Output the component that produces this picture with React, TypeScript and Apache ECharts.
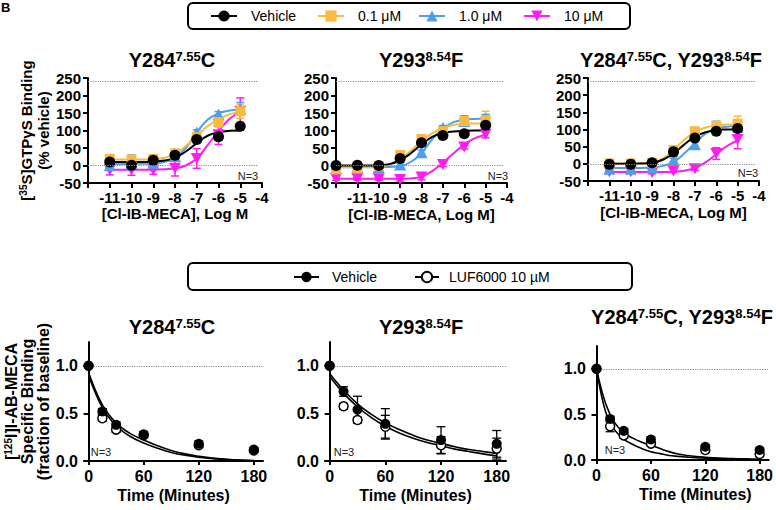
import React, { useEffect, useRef } from "react";
import * as echarts from "echarts";

const FONT = "'Liberation Sans', Arial, Helvetica, sans-serif";

// ---------- Top row: [35S]GTPγS binding ----------
const treatmentNames = ["Vehicle", "0.1 μM", "1.0 μM", "10 μM"];
const doseA = [-11, -10, -9, -8, -7, -6, -5];
const doseB = [-12, -11, -10, -9, -8, -7, -6, -5];
const doseC = [-11, -10, -9, -8, -7, -6, -5];

// Panel Y284C
const aVeh = [10, 1, 15, 29, 74, 82, 112];
const aP1 = [19, 17, 19, 35, 81, 124, 155];
const aP10 = [1, 8, 8, 27, 94, 146, 162];
const aP100 = [-13, -13, -13, -8, 20, 88, 155];
const aVehErr = [5, 4, 6, 5, 6, 8, 6];
const aP1Err = [8, 6, 8, 8, 10, 14, 20];
const aP10Err = [6, 22, 6, 6, 8, 8, 18];
const aP100Err = [14, 15, 12, 22, 28, 28, 38];
const fitXA = [-11, -10.5, -10, -9.5, -9, -8.5, -8, -7.5, -7, -6.5, -6, -5.5, -5];
const aVehFit = [10, 10, 10, 10, 11, 14, 22, 40, 64, 85, 95, 99, 100];
const aP1Fit = [17, 17, 17, 17, 18, 22, 32, 56, 84, 112, 132, 146, 153];
const aP10Fit = [4, 4, 5, 5, 6, 10, 22, 50, 95, 131, 149, 157, 161];
const aP100Fit = [-12, -12, -12, -12, -12, -11, -8, 0, 20, 58, 98, 133, 151];

// Panel Y293F
const bVeh = [0, 1, 0, 20, 65, 86, 91, 115];
const bP1 = [-11, -7, -2, 30, 76, 98, 127, 130];
const bP10 = [-7, -5, -5, 3, 38, 108, 127, 134];
const bP100 = [-37, -38, -38, -40, -33, 3, 53, 89];
const bVehErr = [4, 8, 5, 6, 8, 6, 5, 8];
const bP1Err = [8, 10, 6, 10, 10, 8, 8, 25];
const bP10Err = [6, 6, 6, 5, 6, 6, 15, 12];
const bP100Err = [5, 4, 4, 4, 8, 6, 6, 10];
const fitXB = [-12, -11.5, -11, -10.5, -10, -9.5, -9, -8.5, -8, -7.5, -7, -6.5, -6, -5.5, -5];
const bVehFit = [0, 0, 0, 0, 1, 4, 15, 35, 60, 82, 93, 97, 99, 100, 100];
const bP1Fit = [-4, -4, -4, -4, -3, 3, 18, 42, 70, 92, 108, 116, 119, 120, 121];
const bP10Fit = [-5, -5, -5, -5, -5, -4, -2, 10, 35, 75, 105, 124, 131, 133, 134];
const bP100Fit = [-38, -38, -38, -38, -38, -38, -38, -37, -32, -16, 8, 35, 60, 78, 88];

// Panel Y284C, Y293F
const cVeh = [-1, -1, 3, 35, 75, 95, 103];
const cP1 = [1, 1, 3, 40, 95, 111, 117];
const cP10 = [-14, -14, -11, 11, 57, 109, 109];
const cP100 = [-23, -23, -25, -21, -14, 30, 71];
const cVehErr = [5, 4, 5, 12, 8, 6, 6];
const cP1Err = [5, 5, 5, 8, 8, 10, 22];
const cP10Err = [5, 5, 5, 6, 8, 15, 8];
const cP100Err = [4, 4, 4, 4, 5, 17, 27];
const fitXC = [-11, -10.5, -10, -9.5, -9, -8.5, -8, -7.5, -7, -6.5, -6, -5.5, -5];
const cVehFit = [0, 0, 0, 1, 3, 12, 30, 56, 79, 92, 98, 100, 101];
const cP1Fit = [1, 1, 1, 2, 4, 15, 40, 70, 93, 106, 112, 114, 115];
const cP10Fit = [-12, -12, -12, -12, -11, -6, 5, 30, 60, 88, 103, 108, 110];
const cP100Fit = [-24, -24, -24, -24, -24, -24, -23, -20, -12, 4, 28, 52, 68];

const topYTicks = [-50, 0, 50, 100, 150, 200, 250];
const topXLabels = [-11, -10, -9, -8, -7, -6, -5, -4];

// ---------- Bottom row: [125I]I-AB-MECA dissociation ----------
const kinNames = ["Vehicle", "LUF6000 10 µM"];
const timeX = [0, 15, 30, 60, 120, 180];

const dVeh = [1.0, 0.52, 0.38, 0.28, 0.18, 0.12];
const dLuf = [1.0, 0.45, 0.33, 0.27, 0.165, 0.11];
const dVehErr = [0, 0.03, 0.03, 0.03, 0.03, 0.02];
const dLufErr = [0, 0.03, 0.03, 0.02, 0.02, 0.02];
const dFitT = [0, 15, 30, 45, 60, 75, 90, 105, 120, 135, 150, 165, 180];
const dVehFit = [0.93, 0.59, 0.4, 0.29, 0.22, 0.16, 0.11, 0.075, 0.05, 0.03, 0.018, 0.01, 0.005];
const dLufFit = [0.9, 0.56, 0.37, 0.26, 0.19, 0.135, 0.09, 0.06, 0.04, 0.025, 0.014, 0.007, 0.003];

const eVeh = [1.0, 0.73, 0.54, 0.39, 0.22, 0.18];
const eLuf = [1.0, 0.575, 0.43, 0.36, 0.165, 0.13];
const eVehErr = [0, 0.05, 0.14, 0.16, 0.14, 0.14];
const eLufErr = [0, 0.03, 0.03, 0.12, 0.09, 0.11];
const eFitT = [0, 15, 30, 45, 60, 75, 90, 105, 120, 135, 150, 165, 180];
const eVehFit = [0.92, 0.745, 0.6, 0.49, 0.4, 0.33, 0.27, 0.22, 0.185, 0.15, 0.12, 0.1, 0.08];
const eLufFit = [0.89, 0.71, 0.57, 0.455, 0.365, 0.295, 0.24, 0.195, 0.16, 0.125, 0.1, 0.075, 0.055];

const fVeh = [1.0, 0.45, 0.32, 0.225, 0.145, 0.11];
const fLuf = [1.0, 0.37, 0.27, 0.18, 0.11, 0.065];
const fVehErr = [0, 0.03, 0.02, 0.03, 0.02, 0.02];
const fLufErr = [0, 0.06, 0.03, 0.02, 0.02, 0.02];
const fFitT = [0, 10, 20, 30, 40, 50, 60, 70, 80, 90, 100, 110, 120, 130, 140, 150, 160, 170, 180];
const fVehFit = [1.0, 0.62, 0.41, 0.3, 0.24, 0.195, 0.16, 0.125, 0.092, 0.066, 0.05, 0.038, 0.03, 0.024, 0.019, 0.015, 0.013, 0.011, 0.01];
const fLufFit = [1.0, 0.53, 0.33, 0.23, 0.17, 0.125, 0.09, 0.07, 0.05, 0.04, 0.032, 0.025, 0.02, 0.015, 0.011, 0.008, 0.005, 0.003, 0.002];

const botYLabels = [0, 0.5, 1.0];
const botXLabels = [0, 60, 120, 180];

// ---------- styling ----------
const COLORS = ["#000000", "#F9BA3F", "#4B9FEC", "#FF1CF0"];
const DOWN_TRI = "path://M0,0L20,0L10,18Z";
const SYMBOLS = ["circle", "rect", "triangle", DOWN_TRI];
const SIZES: any[] = [11, 10, 12, [12, 11]];

const zip = (xs: number[], ys: number[]) => xs.map((x, i) => [x, ys[i]]);
const zip3 = (xs: number[], ys: number[], es: number[]) => xs.map((x, i) => [x, ys[i], es[i]]);

const axisText = (size: number) => ({ fontSize: size, fontWeight: "bold", color: "#000", fontFamily: FONT });
const supRich = (size: number) => ({ sup: { fontSize: size, fontWeight: "bold", color: "#000", fontFamily: FONT, verticalAlign: "top" } });

function errSeries(idx: number, data: number[][], color: string, capHalf: number, width: number) {
  return {
    type: "custom",
    xAxisIndex: idx,
    yAxisIndex: idx,
    silent: true,
    z: 3,
    clip: false,
    encode: { x: 0, y: 1 },
    data,
    renderItem: (_p: any, api: any) => {
      const x = api.value(0);
      const y = api.value(1);
      const e = api.value(2);
      if (!e) return { type: "group", children: [] };
      const hi = api.coord([x, y + e]);
      const lo = api.coord([x, y - e]);
      const st = { stroke: color, lineWidth: width };
      return {
        type: "group",
        children: [
          { type: "line", shape: { x1: hi[0], y1: hi[1], x2: lo[0], y2: lo[1] }, style: st },
          { type: "line", shape: { x1: hi[0] - capHalf, y1: hi[1], x2: hi[0] + capHalf, y2: hi[1] }, style: st },
          { type: "line", shape: { x1: lo[0] - capHalf, y1: lo[1], x2: lo[0] + capHalf, y2: lo[1] }, style: st },
        ],
      };
    },
  };
}

function buildOption() {
  const topPanels = [
    {
      grid: { left: 88, top: 78, width: 174, height: 105 },
      title: "Y284{sup|7.55}C", titleX: 172, titleTop: 50,
      xName: "[Cl-IB-MECA], Log M", nameGap: 22,
      dose: doseA, pts: [aVeh, aP1, aP10, aP100], errs: [aVehErr, aP1Err, aP10Err, aP100Err],
      fitX: fitXA, fits: [aVehFit, aP1Fit, aP10Fit, aP100Fit], n3: [248, 176], yName: true,
    },
    {
      grid: { left: 336, top: 78, width: 171, height: 105 },
      title: "Y293{sup|8.54}F", titleX: 421, titleTop: 50,
      xName: "[Cl-IB-MECA, Log M]", nameGap: 24,
      dose: doseB, pts: [bVeh, bP1, bP10, bP100], errs: [bVehErr, bP1Err, bP10Err, bP100Err],
      fitX: fitXB, fits: [bVehFit, bP1Fit, bP10Fit, bP100Fit], n3: [498, 176], yName: false,
    },
    {
      grid: { left: 588, top: 78, width: 171, height: 103 },
      title: "Y284{sup|7.55}C, Y293{sup|8.54}F", titleX: 671, titleTop: 50,
      xName: "[Cl-IB-MECA, Log M]", nameGap: 24,
      dose: doseC, pts: [cVeh, cP1, cP10, cP100], errs: [cVehErr, cP1Err, cP10Err, cP100Err],
      fitX: fitXC, fits: [cVehFit, cP1Fit, cP10Fit, cP100Fit], n3: [748, 173], yName: false,
    },
  ];
  const botPanels = [
    {
      grid: { left: 84, top: 342, width: 179, height: 119 },
      title: "Y284{sup|7.55}C", titleX: 172, titleTop: 317, namePad: 0,
      pts: [dVeh, dLuf], errs: [dVehErr, dLufErr], fitT: dFitT, fits: [dVehFit, dLufFit], n3: [101, 452], yName: true,
    },
    {
      grid: { left: 325, top: 342, width: 181, height: 119 },
      title: "Y293{sup|8.54}F", titleX: 421, titleTop: 317, namePad: 0,
      pts: [eVeh, eLuf], errs: [eVehErr, eLufErr], fitT: eFitT, fits: [eVehFit, eLufFit], n3: [344, 452], yName: false,
    },
    {
      grid: { left: 592, top: 346, width: 180, height: 114 },
      title: "Y284{sup|7.55}C, Y293{sup|8.54}F", titleX: 682, titleTop: 307, namePad: 30,
      pts: [fVeh, fLuf], errs: [fVehErr, fLufErr], fitT: fFitT, fits: [fVehFit, fLufFit], n3: [615, 450], yName: false,
    },
  ];

  const grid: any[] = [];
  const xAxis: any[] = [];
  const yAxis: any[] = [];
  const series: any[] = [];
  const title: any[] = [];
  const graphic: any[] = [];

  const titleStyle = { ...axisText(20), rich: supRich(13) };
  const dotted = { type: "dotted", color: "#8a8a8a", width: 1.2 };
  const lineAx = { color: "#000", width: 2 };

  topPanels.forEach((p, i) => {
    grid.push(p.grid);
    title.push({ text: p.title, left: p.titleX, top: p.titleTop, textAlign: "center", padding: 0, textStyle: titleStyle });
    xAxis.push({
      gridIndex: i, type: "value", min: -12, max: -4, interval: 1,
      axisLine: { onZero: false, lineStyle: lineAx },
      axisTick: { length: 5, lineStyle: lineAx },
      axisLabel: { ...axisText(15), margin: 7, customValues: topXLabels },
      splitLine: { show: false },
      name: p.xName, nameLocation: "middle", nameGap: p.nameGap, nameTextStyle: axisText(15),
    });
    yAxis.push({
      gridIndex: i, type: "value", min: -50, max: 250, interval: 50,
      axisLine: { show: true, lineStyle: lineAx },
      axisTick: { show: true, length: 5, lineStyle: lineAx },
      axisLabel: { ...axisText(15), margin: 7, customValues: topYTicks },
      splitLine: { show: false },
      ...(p.yName
        ? {
            name: "[{sup|35}S]GTPγS Binding\n(% vehicle)", nameLocation: "middle", nameRotate: 90, nameGap: 36,
            nameTextStyle: { ...axisText(15), lineHeight: 17, rich: supRich(10) },
          }
        : {}),
    });
    series.push({
      type: "line", xAxisIndex: i, yAxisIndex: i, data: [], silent: true,
      markLine: {
        silent: true, symbol: ["none", "none"], label: { show: false }, lineStyle: dotted,
        data: [
          [{ coord: [-12, 0] }, { coord: [-4.2, 0] }],
          [{ coord: [-12, 240] }, { coord: [-4.2, 240] }],
        ],
      },
    });
    [3, 2, 1, 0].forEach((t) => {
      series.push({
        type: "line", xAxisIndex: i, yAxisIndex: i, data: zip(p.fitX, p.fits[t]),
        smooth: 0.4, showSymbol: false, silent: true, z: 2,
        lineStyle: { color: COLORS[t], width: 2 },
      });
    });
    [3, 2, 1, 0].forEach((t) => {
      series.push(errSeries(i, zip3(p.dose, p.pts[t], p.errs[t]), COLORS[t], 4, 1.5));
    });
    [3, 2, 1, 0].forEach((t) => {
      series.push({
        name: treatmentNames[t], type: "line", xAxisIndex: i, yAxisIndex: i,
        data: zip(p.dose, p.pts[t]), symbol: SYMBOLS[t], symbolSize: SIZES[t], showAllSymbol: true,
        clip: false, z: 4, color: COLORS[t],
        itemStyle: { color: COLORS[t] },
        lineStyle: { color: COLORS[t], width: 2, opacity: 0 },
      });
    });
    graphic.push({
      type: "text", x: p.n3[0], y: p.n3[1],
      style: { text: "N=3", font: `11px ${FONT}`, fill: "#222", align: "center", verticalAlign: "middle" },
    });
  });

  botPanels.forEach((p, k) => {
    const i = k + 3;
    grid.push(p.grid);
    title.push({ text: p.title, left: p.titleX, top: p.titleTop, textAlign: "center", padding: 0, textStyle: titleStyle });
    xAxis.push({
      gridIndex: i, type: "value", min: -5, max: 190,
      axisLine: { onZero: false, lineStyle: lineAx },
      axisTick: { length: 4, lineStyle: lineAx, customValues: botXLabels },
      axisLabel: { ...axisText(16), margin: 7, customValues: botXLabels },
      splitLine: { show: false },
      name: "Time (Minutes)", nameLocation: "middle", nameGap: 26,
      nameTextStyle: { ...axisText(16), padding: [0, 0, 0, p.namePad] },
    });
    yAxis.push({
      gridIndex: i, type: "value", min: 0, max: 1.25,
      axisLine: { show: true, onZero: true, lineStyle: lineAx },
      axisTick: { show: true, length: 5, lineStyle: lineAx, customValues: botYLabels },
      axisLabel: { ...axisText(16), margin: 6, customValues: botYLabels, formatter: (v: number) => v.toFixed(1) },
      splitLine: { show: false },
      ...(p.yName
        ? {
            name: "[{sup|125}I]I-AB-MECA\nSpecific Binding\n(fraction of baseline)", nameLocation: "middle",
            nameRotate: 90, nameGap: 26,
            nameTextStyle: { ...axisText(16), lineHeight: 16, rich: supRich(10) },
          }
        : {}),
    });
    series.push({
      type: "line", xAxisIndex: i, yAxisIndex: i, data: [], silent: true,
      markLine: {
        silent: true, symbol: ["none", "none"], label: { show: false }, lineStyle: dotted,
        data: [[{ coord: [0, 1] }, { coord: [190, 1] }]],
      },
    });
    [1, 0].forEach((t) => {
      series.push({
        type: "line", xAxisIndex: i, yAxisIndex: i, data: zip(p.fitT, p.fits[t]),
        smooth: 0.4, showSymbol: false, silent: true, z: 2,
        lineStyle: { color: "#000", width: 1.6 },
      });
    });
    [1, 0].forEach((t) => {
      series.push(errSeries(i, zip3(timeX, p.pts[t], p.errs[t]), "#000", 4.5, 1.3));
    });
    series.push({
      name: kinNames[1], type: "line", xAxisIndex: i, yAxisIndex: i, data: zip(timeX, p.pts[1]),
      symbol: "circle", symbolSize: 9, clip: false, z: 4, color: "#000",
      itemStyle: { color: "#fff", borderColor: "#000", borderWidth: 1.5 },
      lineStyle: { color: "#000", width: 2, opacity: 0 },
    });
    series.push({
      name: "Vehicle (dissociation)", type: "line", xAxisIndex: i, yAxisIndex: i, data: zip(timeX, p.pts[0]),
      symbol: "circle", symbolSize: 10, clip: false, z: 5, color: "#000",
      itemStyle: { color: "#000" },
      lineStyle: { color: "#000", width: 2, opacity: 0 },
    });
    graphic.push({
      type: "text", x: p.n3[0], y: p.n3[1],
      style: { text: "N=3", font: `11px ${FONT}`, fill: "#222", align: "center", verticalAlign: "middle" },
    });
  });

  graphic.push(
    { type: "rect", shape: { x: 188, y: 3, width: 442, height: 26, r: 5 }, style: { fill: "none", stroke: "#000", lineWidth: 2 }, z: -1 },
    { type: "rect", shape: { x: 188, y: 263, width: 444, height: 27, r: 5 }, style: { fill: "none", stroke: "#000", lineWidth: 2 }, z: -1 },
    { type: "text", x: 1, y: 1, style: { text: "B", font: `bold 13px ${FONT}`, fill: "#000" } }
  );

  const legText = (pad: number) => ({ fontSize: 14, color: "#000", fontFamily: FONT, padding: [0, 0, 0, pad] });
  const topLegendLeft = [210, 317, 418, 523];
  const legend: any[] = treatmentNames.map((n, t) => ({
    data: [n], left: topLegendLeft[t], top: 9, padding: 0, itemWidth: 26, itemHeight: 14,
    selectedMode: false, textStyle: legText(9), lineStyle: { width: 2, opacity: 1 },
  }));
  legend.push(
    {
      data: ["Vehicle (dissociation)"], left: 293, top: 270, padding: 0, itemWidth: 25, itemHeight: 13,
      selectedMode: false, textStyle: legText(8), lineStyle: { width: 2, opacity: 1 }, formatter: () => "Vehicle",
    },
    {
      data: [kinNames[1]], left: 414, top: 270, padding: 0, itemWidth: 24, itemHeight: 13,
      selectedMode: false, textStyle: legText(5), lineStyle: { width: 2, opacity: 1 },
    }
  );

  return {
    animation: false,
    backgroundColor: "#fff",
    textStyle: { fontFamily: FONT },
    grid, xAxis, yAxis, series, title, legend, graphic,
  };
}

export default function App() {
  const ref = useRef<HTMLDivElement>(null);
  useEffect(() => {
    const chart = echarts.init(ref.current!, null, { renderer: "svg", width: 776, height: 510 });
    chart.setOption(buildOption() as any);
    return () => chart.dispose();
  }, []);
  return (
    <div
      ref={ref}
      style={{ position: "absolute", left: 0, top: 0, width: 776, height: 510, background: "#fff" }}
    />
  );
}
